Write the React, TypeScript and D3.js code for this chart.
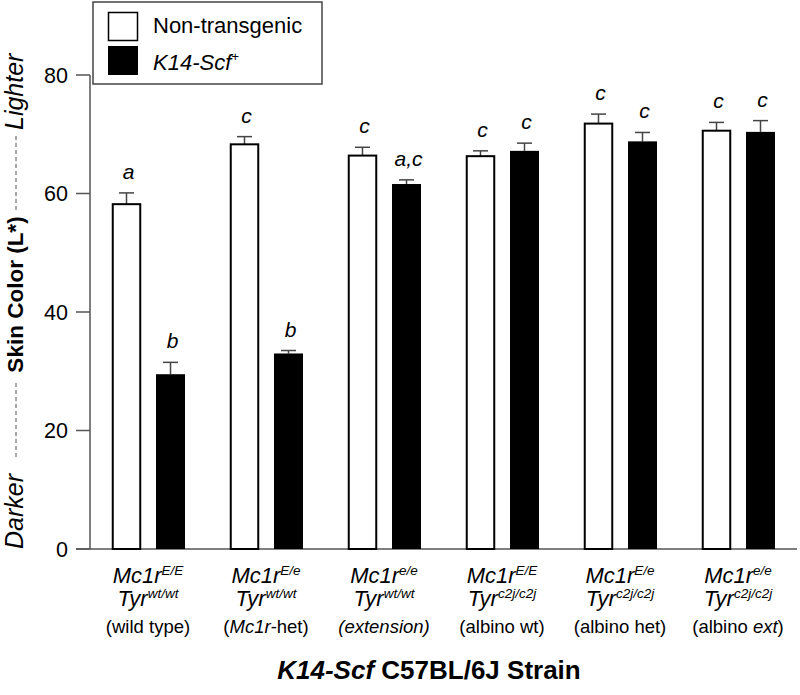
import React from "react";
import * as d3 from "d3";

const groups = ["wt", "mc1rHet", "ext", "albWt", "albHet", "albExt"];
const seriesNames = ["Non-transgenic", "K14-Scf+"];
const nonTgMeans = [58.2, 68.3, 66.4, 66.3, 71.8, 70.6];
const nonTgSem = [1.9, 1.3, 1.4, 0.9, 1.6, 1.4];
const k14Means = [29.5, 33.0, 61.6, 67.2, 68.8, 70.4];
const k14Sem = [2.0, 0.5, 0.7, 1.3, 1.5, 1.9];
const nonTgLetters = ["a", "c", "c", "c", "c", "c"];
const k14Letters = ["b", "b", "a,c", "c", "c", "c"];
const mc1rAlleles = ["E/E", "E/e", "e/e", "E/E", "E/e", "e/e"];
const tyrAlleles = ["wt/wt", "wt/wt", "wt/wt", "c2j/c2j", "c2j/c2j", "c2j/c2j"];
// descriptor segments: [text, italic]
const descriptors: [string, boolean][][] = [
  [["(wild type)", false]],
  [["(", false], ["Mc1r", true], ["-het)", false]],
  [["(extension)", true]],
  [["(albino wt)", false]],
  [["(albino het)", false]],
  [["(albino ", false], ["ext", true], [")", false]],
];
const yTicks = [0, 20, 40, 60, 80];

const FONT = "'Liberation Sans', Arial, Helvetica, sans-serif";

export default function App() {
  const W = 800, H = 695;
  const y = d3.scaleLinear().domain([0, 80]).range([549, 75]);
  const x0 = d3.scaleBand<string>().domain(groups).range([89, 797]).paddingInner(0).paddingOuter(0);
  const x1 = d3.scaleBand<string>().domain(seriesNames).range([-36, 37]).paddingInner(0.341).paddingOuter(0);
  const bw = x1.bandwidth();

  const seriesData = [
    { name: seriesNames[0], means: nonTgMeans, sems: nonTgSem, letters: nonTgLetters, fill: "#fff" },
    { name: seriesNames[1], means: k14Means, sems: k14Sem, letters: k14Letters, fill: "#000" },
  ];

  return (
    <svg width={W} height={H} style={{ position: "absolute", left: 0, top: 0, background: "#fff" }} fontFamily={FONT}>
      {/* Legend */}
      <rect x={93} y={2} width={229} height={82} fill="#fff" stroke="#444" strokeWidth={1.5} />
      <rect x={108.5} y={12.5} width={29} height={28} fill="#fff" stroke="#000" strokeWidth={1.5} />
      <rect x={108} y={46} width={30} height={29} fill="#000" />
      <text x={153} y={33} fontSize={22} fill="#000">Non-transgenic</text>
      <text x={153} y={70} fontSize={22} fill="#000" fontStyle="italic">
        K14-Scf<tspan fontSize={13} dy={-9}>+</tspan>
      </text>

      {/* Y axis */}
      <line x1={90} x2={90} y1={y(80)} y2={y(0)} stroke="#555" strokeWidth={1.5} />
      {yTicks.map((t) => (
        <g key={t}>
          <line x1={76} x2={90} y1={y(t)} y2={y(t)} stroke="#555" strokeWidth={1.5} />
          <text x={68} y={y(t)} dy="0.36em" textAnchor="end" fontSize={21.5} fill="#000">{t}</text>
        </g>
      ))}
      {/* baseline */}
      <line x1={76} x2={797} y1={y(0)} y2={y(0)} stroke="#555" strokeWidth={1.5} />

      {/* Y label */}
      <g transform="translate(23,0) rotate(-90)">
        <text x={-549} y={0} fontSize={25} fontStyle="italic" fill="#000">Darker</text>
        <line x1={-457} x2={-380} y1={-7} y2={-7} stroke="#555" strokeWidth={1} strokeDasharray="4,3" />
        <text x={-294.5} y={0} fontSize={22.5} fontWeight="bold" textAnchor="middle" fill="#000">Skin Color (L*)</text>
        <line x1={-210} x2={-133} y1={-7} y2={-7} stroke="#555" strokeWidth={1} strokeDasharray="4,3" />
        <text x={-130} y={0} fontSize={25} fontStyle="italic" textAnchor="start" fill="#000">Lighter</text>
      </g>

      {/* Bars */}
      {groups.map((g, i) => {
        const cx = x0(g)! + x0.bandwidth() / 2;
        return (
          <g key={g}>
            {seriesData.map((s) => {
              const bx = cx + x1(s.name)!;
              const mid = bx + bw / 2;
              const top = y(s.means[i]);
              const errTop = y(s.means[i] + s.sems[i]);
              const isWhite = s.fill === "#fff";
              return (
                <g key={s.name}>
                  <line x1={mid} x2={mid} y1={top} y2={errTop} stroke="#444" strokeWidth={1.5} />
                  <line x1={mid - 7.5} x2={mid + 7.5} y1={errTop} y2={errTop} stroke="#444" strokeWidth={1.5} />
                  {isWhite ? (
                    <rect x={bx + 0.75} y={top} width={bw - 1.5} height={y(0) - top} fill="#fff" stroke="#000" strokeWidth={2} />
                  ) : (
                    <rect x={bx} y={top} width={bw} height={y(0) - top} fill="#000" />
                  )}
                  <text x={mid + 2} y={errTop - 14} textAnchor="middle" fontSize={21} fontStyle="italic" fill="#000">
                    {s.letters[i]}
                  </text>
                </g>
              );
            })}
            {/* x labels */}
            <text x={cx} y={583} textAnchor="middle" fontSize={22} fill="#000">
              <tspan fontStyle="italic">Mc1r</tspan>
              <tspan fontStyle="italic" fontSize={13.5} dy={-8}>{mc1rAlleles[i]}</tspan>
            </text>
            <text x={cx} y={606} textAnchor="middle" fontSize={22} fill="#000">
              <tspan fontStyle="italic">Tyr</tspan>
              <tspan fontStyle="italic" fontSize={13.5} dy={-8}>{tyrAlleles[i]}</tspan>
            </text>
            <text x={cx} y={633} textAnchor="middle" fontSize={18.5} fill="#000">
              {descriptors[i].map(([t, it], k) => (
                <tspan key={k} fontStyle={it ? "italic" : "normal"}>{t}</tspan>
              ))}
            </text>
          </g>
        );
      })}

      {/* X title */}
      <text x={429} y={679} textAnchor="middle" fontSize={26} fontWeight="bold" fill="#000">
        <tspan fontStyle="italic">K14-Scf</tspan>
        <tspan> C57BL/6J Strain</tspan>
      </text>
    </svg>
  );
}
